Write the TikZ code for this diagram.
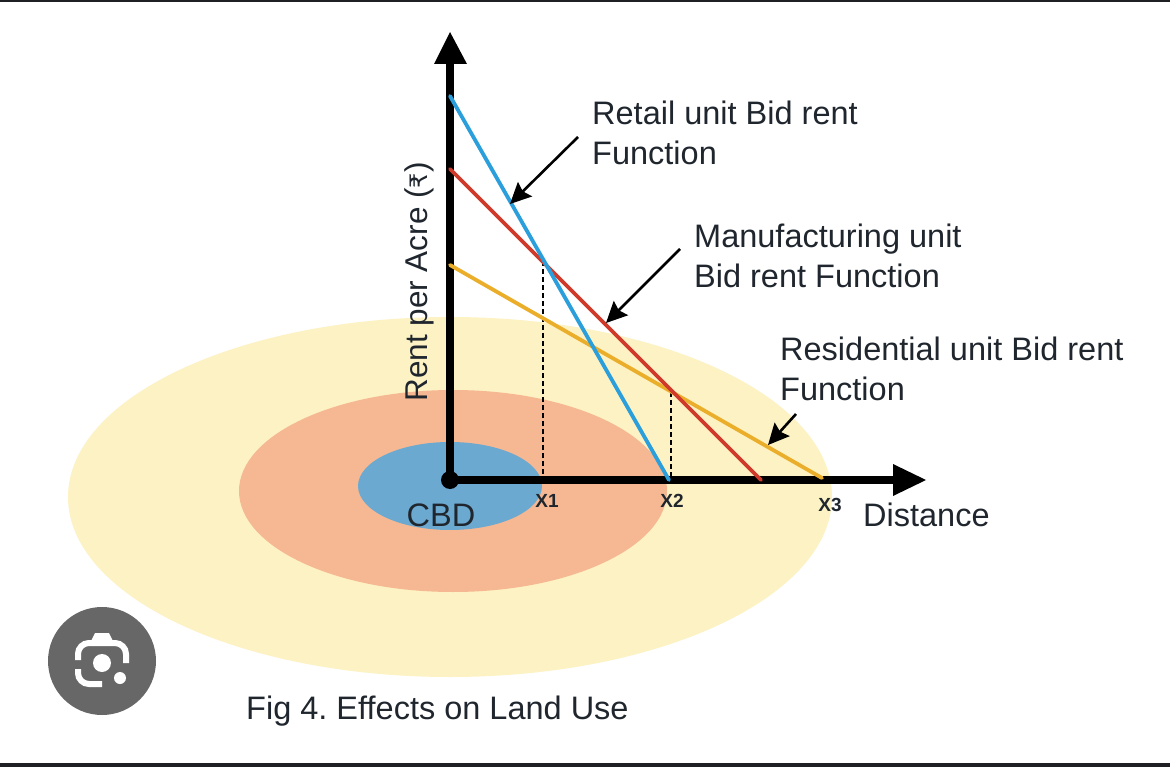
\documentclass[tikz,border=0pt]{standalone}
\usepackage{fontspec}
\setmainfont{Liberation Sans}
\newfontfamily\rupeefont{DejaVu Sans}
\usetikzlibrary{arrows.meta}
\frenchspacing
\definecolor{zoneY}{HTML}{FDF2C4}
\definecolor{zoneO}{HTML}{F6B892}
\definecolor{zoneB}{HTML}{6BA9D0}
\definecolor{lineB}{HTML}{2A9FDC}
\definecolor{lineR}{HTML}{CF3A2A}
\definecolor{lineY}{HTML}{EBAE2A}
\definecolor{txt}{HTML}{20262E}
\definecolor{lens}{HTML}{676767}
\definecolor{barc}{HTML}{1E2024}
\tikzset{
  x=1pt,y=-1pt,
  axis/.style={line width=7.5pt,black},
  bid/.style={line width=3.8pt,line cap=round},
  lead/.style={line width=2.6pt,black,-{Stealth[length=21pt,width=20pt,inset=3pt]}},
  guide/.style={line width=2.4pt,black,dash pattern=on 5pt off 3pt},
  lab/.style={font=\fontsize{32.5}{40}\selectfont,text=txt,align=left,anchor=west,inner sep=0pt},
  small/.style={font=\fontsize{19}{22}\selectfont\bfseries,text=txt,inner sep=0pt},
}
\begin{document}
\begin{tikzpicture}
\useasboundingbox (0,0) rectangle (1170,767);
\fill[white] (0,0) rectangle (1170,767);
\fill[barc] (0,0) rectangle (1170,2);
\fill[barc] (0,763) rectangle (1170,767);
% zones
\fill[zoneY] (450,497) ellipse [x radius=382,y radius=180];
\fill[zoneO] (453,491) ellipse [x radius=214,y radius=101];
\fill[zoneB] (450,486) ellipse [x radius=92,y radius=44];
% anchor points
\coordinate (O) at (450,480);
\coordinate (ytop) at (450,32);
\coordinate (xend) at (926,480);
\coordinate (b0) at (450,96);
\coordinate (r0) at (450,169);
\coordinate (y0) at (450,265);
\coordinate (i1) at (543,261);
\coordinate (i2) at (671,392);
\coordinate (f1) at (543,480);
\coordinate (f2) at (671,480);
\coordinate (b1) at (669,480);
\coordinate (r1) at (761,480);
\coordinate (y1) at (822,478);
% guides
\draw[guide] (i1) -- (f1);
\draw[guide] (i2) -- (f2);
% axes
\draw[axis] (O) -- (450,60);
\draw[axis] (O) -- (895,480);
\fill[black] (ytop) -- (467,64) -- (434,64) -- cycle;
\fill[black] (xend) -- (893,464) -- (893,496) -- cycle;
\fill[black] (O) circle (9);
% bid-rent lines
\draw[bid,lineY] (y0) -- (y1);
\draw[bid,lineR] (r0) -- (r1);
\draw[bid,lineB] (b0) -- (b1);
% labels
\node[lab] (lr) at (592,133) {Retail unit Bid rent\\Function};
\node[lab] (lm) at (694,256) {Manufacturing unit\\Bid rent Function};
\node[lab] (ld) at (780,369) {Residential unit Bid rent\\Function};
\node[lab] (dist) at (863,515) {Distance};
\node[lab,anchor=center,rotate=90,font=\fontsize{31.5}{40}\selectfont] (rent) at (419,282) {Rent per Acre ({\rupeefont\fontsize{24}{30}\selectfont ₹})};
\node[lab,anchor=center] (cbd) at (441,515) {CBD};
\node[small] (x1) at (547,501) {X1};
\node[small] (x2) at (672,501) {X2};
\node[small] (x3) at (830,505) {X3};
\node[lab] (cap) at (246,711.5) {Fig 4. Effects on Land Use};
% leaders
\coordinate (a1s) at (578,137);
\coordinate (a1e) at (510,204);
\coordinate (a2s) at (680,249);
\coordinate (a2e) at (606,323);
\coordinate (a3s) at (796,414);
\coordinate (a3e) at (768,445);
\draw[lead] (a1s) -- (a1e);
\draw[lead] (a2s) -- (a2e);
\draw[lead] (a3s) -- (a3e);
% lens badge
\fill[lens] (102,661) circle (54);
\draw[white,line width=6pt,rounded corners=11pt] (78,660) -- (78,643) -- (126,643) -- (126,663);
\draw[white,line width=6pt,rounded corners=11pt] (78,669) -- (78,684) -- (102,684);
\fill[white] (91,641) -- (95,633) -- (109,633) -- (113,641) -- cycle;
\fill[white] (102,663) circle (9);
\fill[white] (120,678) circle (6);
\end{tikzpicture}
\end{document}
